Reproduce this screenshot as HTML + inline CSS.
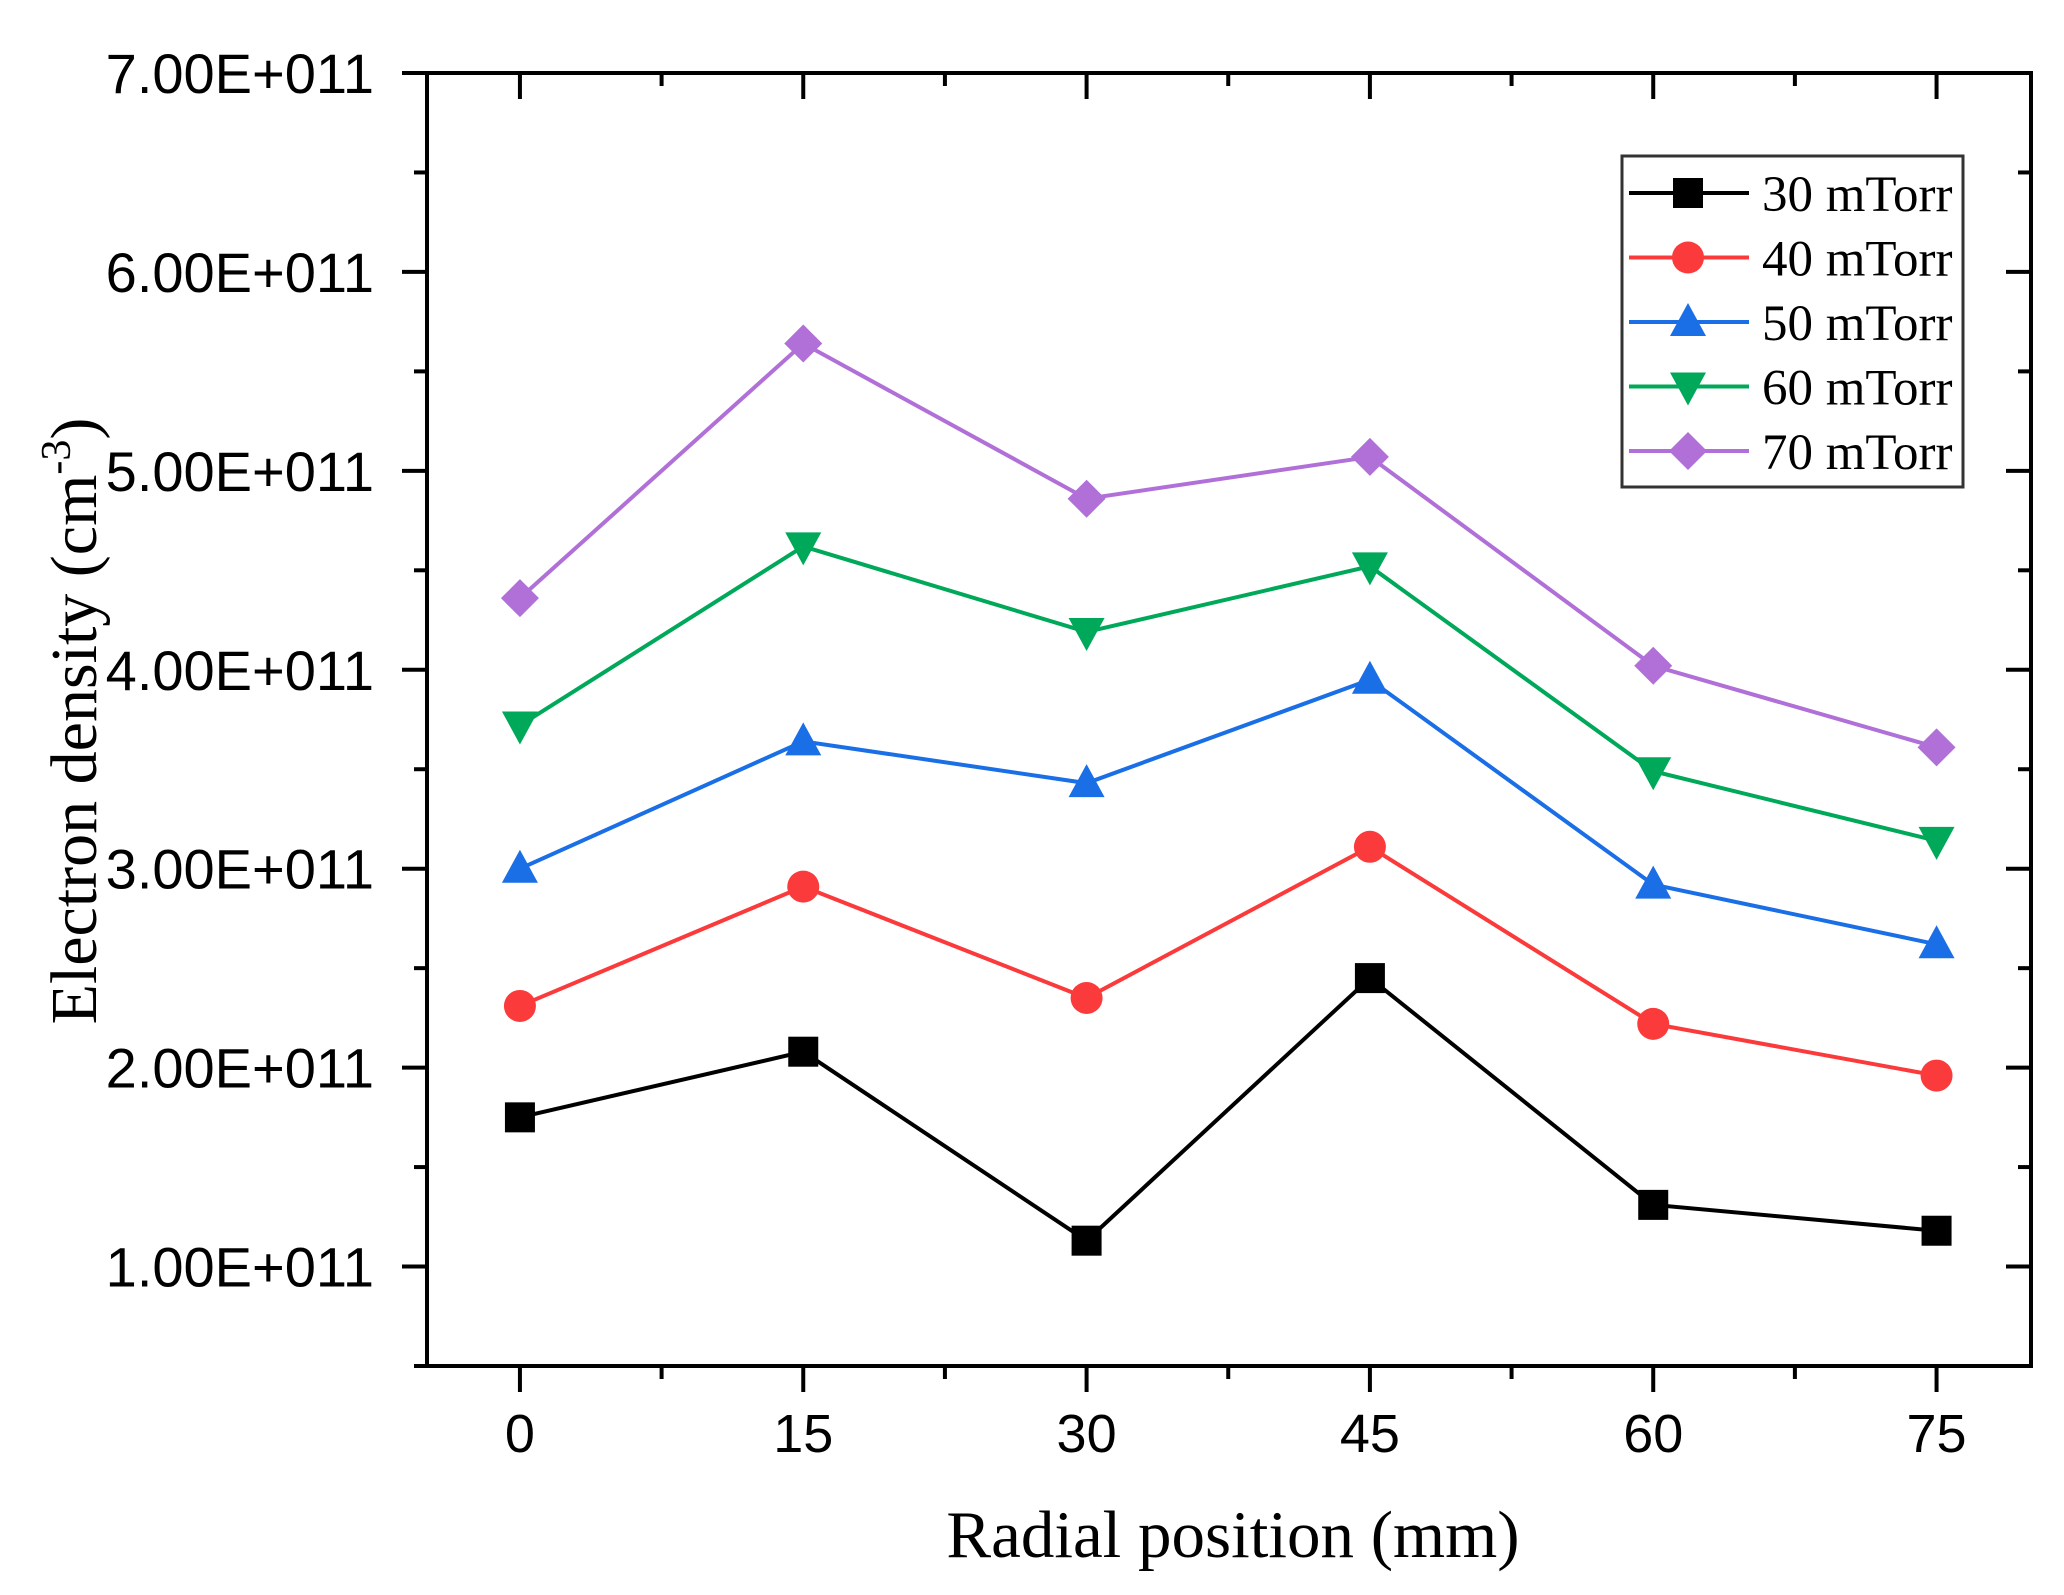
<!DOCTYPE html>
<html><head><meta charset="utf-8"><style>
html,body{margin:0;padding:0;background:#fff}
svg{display:block}
</style></head><body>
<svg id="chart" width="2064" height="1595" viewBox="0 0 2064 1595" xmlns="http://www.w3.org/2000/svg"></svg>
<script>
const positions = [0, 15, 30, 45, 60, 75];
const seriesNames = ["30 mTorr", "40 mTorr", "50 mTorr", "60 mTorr", "70 mTorr"];
const s30 = [1.75, 2.08, 1.13, 2.45, 1.31, 1.18];
const s40 = [2.31, 2.91, 2.35, 3.11, 2.22, 1.96];
const s50 = [3.00, 3.64, 3.43, 3.95, 2.92, 2.62];
const s60 = [3.72, 4.62, 4.19, 4.52, 3.49, 3.14];
const s70 = [4.36, 5.64, 4.86, 5.07, 4.02, 3.61];
const yTicks = [1, 2, 3, 4, 5, 6, 7];
const yTickLabels = ["1.00E+011","2.00E+011","3.00E+011","4.00E+011","5.00E+011","6.00E+011","7.00E+011"];
const xTickLabels = ["0","15","30","45","60","75"];

const svg = document.getElementById('chart');
const NS = 'http://www.w3.org/2000/svg';
const L = 427, R = 2031, T = 73, B = 1366;
const xMin = -4.92, xMax = 80, yMin = 0.5, yMax = 7;
function sx(v){ return L + (v - xMin) / (xMax - xMin) * (R - L); }
function sy(v){ return B - (v - yMin) / (yMax - yMin) * (B - T); }
function mk(tag, attrs, parent){
  const e = document.createElementNS(NS, tag);
  for (const k in attrs) e.setAttribute(k, attrs[k]);
  (parent || svg).appendChild(e);
  return e;
}

const frame = mk('rect', {x:L, y:T, width:R-L, height:B-T, fill:'none', stroke:'#000', 'stroke-width':4});



for (let v = 0.5; v <= 7.001; v += 0.5) {
  const y = sy(v);
  const major = Math.abs(v - Math.round(v)) < 1e-6;
  const len = major ? 25 : 13;
  mk('line', {x1:L-len, y1:y, x2:L, y2:y, stroke:'#000', 'stroke-width':4});
  mk('line', {x1:R-len, y1:y, x2:R, y2:y, stroke:'#000', 'stroke-width':4});
}
yTicks.forEach((v, i) => {
  const t = mk('text', {x:374, y:sy(v)+20, 'text-anchor':'end', 'font-family':'Liberation Sans, sans-serif', 'font-size':56, fill:'#000'});
  t.textContent = yTickLabels[i];
  
  
});

for (let v = 0; v <= 75.001; v += 7.5) {
  const x = sx(v);
  const major = Math.abs(v / 15 - Math.round(v / 15)) < 1e-6;
  const len = major ? 26 : 13;
  mk('line', {x1:x, y1:B, x2:x, y2:B+len, stroke:'#000', 'stroke-width':4});
  mk('line', {x1:x, y1:T, x2:x, y2:T+len, stroke:'#000', 'stroke-width':4});
}
positions.forEach((v, i) => {
  const t = mk('text', {x:sx(v), y:1452, 'text-anchor':'middle', 'font-family':'Liberation Sans, sans-serif', 'font-size':54, fill:'#000'});
  t.textContent = xTickLabels[i];
  
  
});

const xt = mk('text', {x:1233, y:1557, 'text-anchor':'middle', 'font-family':'Liberation Serif, serif', 'font-size':67, fill:'#000'});
xt.textContent = 'Radial position (mm)';


const yt = mk('text', {x:0, y:0, 'text-anchor':'middle', transform:'translate(96,721) rotate(-90)', 'font-family':'Liberation Serif, serif', 'font-size':66, fill:'#000'});
yt.innerHTML = 'Electron density (cm<tspan dy="-26" font-size="42">-3</tspan><tspan dy="26">)</tspan>';



const allSeries = [s30, s40, s50, s60, s70];
const colors = ['#000000', '#fb3b3b', '#1a6fe6', '#00a85a', '#b070d8'];
const shapes = ['square', 'circle', 'up', 'down', 'diamond'];

function marker(shape, x, y, color, g){
  const s = 15;
  if (shape === 'square') return mk('rect', {x:x-s, y:y-s, width:2*s, height:2*s, fill:color}, g);
  if (shape === 'circle') return mk('circle', {cx:x, cy:y, r:s+1, fill:color}, g);
  if (shape === 'up') return mk('polygon', {points:`${x},${y-s-4} ${x+s+3},${y+s-1} ${x-s-3},${y+s-1}`, fill:color}, g);
  if (shape === 'down') return mk('polygon', {points:`${x},${y+s+4} ${x+s+3},${y-s+1} ${x-s-3},${y-s+1}`, fill:color}, g);
  return mk('polygon', {points:`${x},${y-s-4} ${x+s+4},${y} ${x},${y+s+4} ${x-s-4},${y}`, fill:color}, g);
}

allSeries.forEach((vals, si) => {
  const g = mk('g', {});
  
  
  const pts = vals.map((v, i) => sx(positions[i]) + ',' + sy(v)).join(' ');
  const pl = mk('polyline', {points:pts, fill:'none', stroke:colors[si], 'stroke-width':4}, g);
  
  
  vals.forEach((v, i) => {
    const m = marker(shapes[si], sx(positions[i]), sy(v), colors[si], g);
    
    
  });
});

const lg = mk('g', {});


mk('rect', {x:1622, y:156, width:341, height:331, fill:'#fff', stroke:'#333', 'stroke-width':3}, lg);
seriesNames.forEach((n, i) => {
  const y = 193 + i * 64.5;
  const e = mk('g', {}, lg);
  
  
  mk('line', {x1:1629, y1:y, x2:1749, y2:y, stroke:colors[i], 'stroke-width':4}, e);
  marker(shapes[i], 1688, y, colors[i], e);
  const t = mk('text', {x:1762, y:y+18, 'font-family':'Liberation Serif, serif', 'font-size':51, fill:'#000'}, e);
  t.textContent = n;
});
</script>
</body></html>
